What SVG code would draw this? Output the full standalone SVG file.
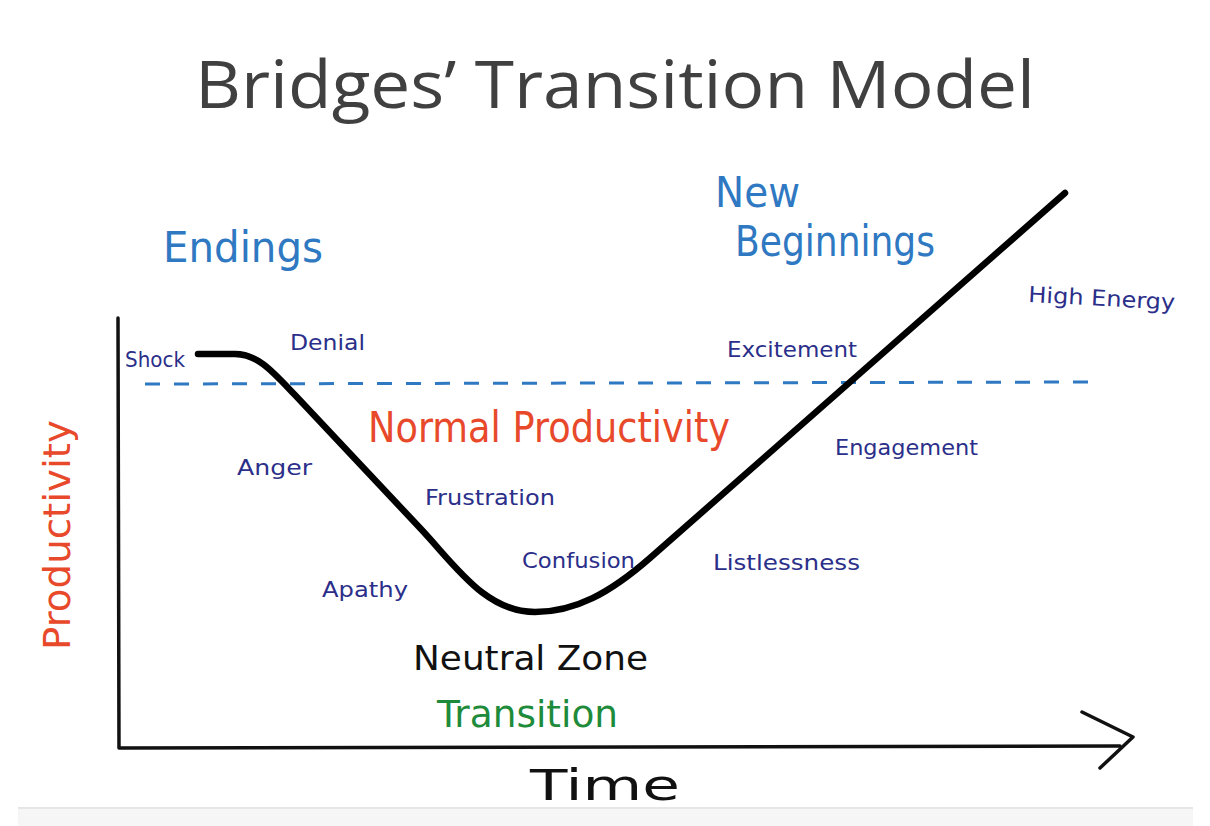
<svg xmlns="http://www.w3.org/2000/svg" width="1210" height="826" viewBox="0 0 1210 826">
<style>
.hand{font-family:"DejaVu Sans","Liberation Sans",sans-serif;font-weight:normal}
.lbl{fill:#2b2f8a;font-size:22px}
.phase{fill:#2f78c2;font-size:42px}
.axis{fill:none;stroke:#111;stroke-width:3.5;stroke-linecap:round;stroke-linejoin:round}
</style>
<rect width="1210" height="826" fill="#ffffff"/>
<rect x="18" y="808" width="1175" height="18" fill="#f6f6f6"/>
<line x1="18" y1="808" x2="1193" y2="808" stroke="#e6e6e6" stroke-width="2"/>
<g id="title"><text x="615" y="108" text-anchor="middle" font-family="'Open Sans','Liberation Sans',sans-serif" font-size="66" fill="#404040" textLength="840" lengthAdjust="spacingAndGlyphs">Bridges’ Transition Model</text></g>
<g id="connectors">
<path class="axis" d="M118,318 L119,748 L1120,746"/>
<path class="axis" d="M1082,712 L1133,737 L1100,768"/>
<line x1="145" y1="384" x2="1100" y2="382" stroke="#2f78c2" stroke-width="3" stroke-dasharray="15 14"/>
<path d="M198,354 L235,354 C258,354 273,372 295,395 L420,528 C455,565 485,612 535,612 C575,612 610,593 650,558 L1065,193" fill="none" stroke="#000" stroke-width="6.5" stroke-linecap="round" stroke-linejoin="round"/>
</g>
<g id="endings"><text class="hand phase" x="163" y="262" textLength="160" lengthAdjust="spacingAndGlyphs">Endings</text></g>
<g id="new-beginnings">
<text class="hand phase" x="715" y="207" textLength="85" lengthAdjust="spacingAndGlyphs">New</text>
<text class="hand phase" x="735" y="256" textLength="200" lengthAdjust="spacingAndGlyphs">Beginnings</text>
</g>
<g id="normal-productivity"><text class="hand" x="368" y="442" font-size="42" fill="#e8492b" textLength="362" lengthAdjust="spacingAndGlyphs">Normal Productivity</text></g>
<g id="neutral-zone"><text class="hand" x="413" y="670" font-size="34" fill="#111" textLength="235" lengthAdjust="spacingAndGlyphs">Neutral Zone</text></g>
<g id="transition"><text class="hand" x="437" y="727" font-size="38" fill="#1e8b3b" textLength="181" lengthAdjust="spacingAndGlyphs">Transition</text></g>
<g id="productivity"><text class="hand" transform="translate(70,535) rotate(-90)" text-anchor="middle" font-size="38" fill="#e8492b" textLength="230" lengthAdjust="spacingAndGlyphs">Productivity</text></g>
<g id="time"><text class="hand" x="530" y="800" font-size="42" fill="#111" textLength="150" lengthAdjust="spacingAndGlyphs">Time</text></g>
<g id="shock"><text class="hand lbl" x="125" y="367" textLength="60" lengthAdjust="spacingAndGlyphs">Shock</text></g>
<g id="denial"><text class="hand lbl" x="290" y="350" textLength="75" lengthAdjust="spacingAndGlyphs">Denial</text></g>
<g id="anger"><text class="hand lbl" x="237" y="475" textLength="75" lengthAdjust="spacingAndGlyphs">Anger</text></g>
<g id="frustration"><text class="hand lbl" x="425" y="505" textLength="130" lengthAdjust="spacingAndGlyphs">Frustration</text></g>
<g id="apathy"><text class="hand lbl" x="322" y="597" textLength="86" lengthAdjust="spacingAndGlyphs">Apathy</text></g>
<g id="confusion"><text class="hand lbl" x="522" y="568" textLength="113" lengthAdjust="spacingAndGlyphs">Confusion</text></g>
<g id="listlessness"><text class="hand lbl" x="713" y="570" textLength="147" lengthAdjust="spacingAndGlyphs">Listlessness</text></g>
<g id="engagement"><text class="hand lbl" x="835" y="455" textLength="143" lengthAdjust="spacingAndGlyphs">Engagement</text></g>
<g id="excitement"><text class="hand lbl" x="727" y="357" textLength="130" lengthAdjust="spacingAndGlyphs">Excitement</text></g>
<g id="high-energy"><text class="hand lbl" x="1028" y="302" transform="rotate(3 1028 302)" textLength="147" lengthAdjust="spacingAndGlyphs">High Energy</text></g>
</svg>
